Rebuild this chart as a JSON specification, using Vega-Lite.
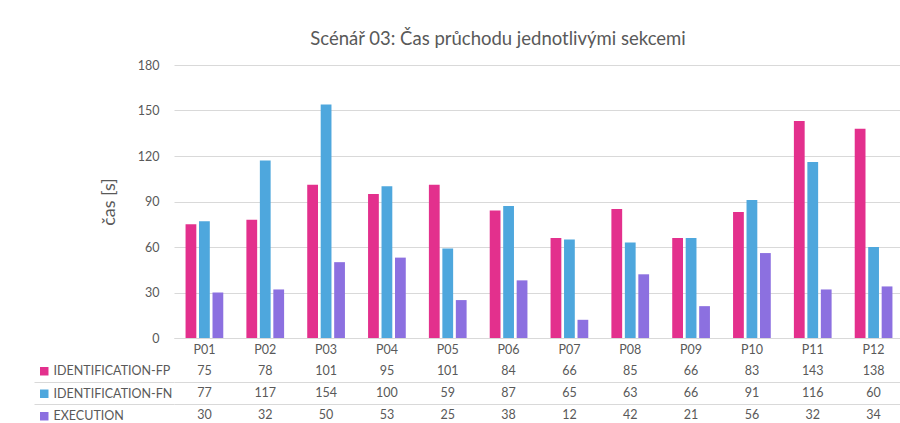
{
  "$schema": "https://vega.github.io/schema/vega-lite/v6.json",
  "width": 730,
  "height": 273,
  "autosize": {"type": "none"},
  "padding": {"left": 174, "top": 65, "right": 0, "bottom": 85},
  "background": "white",
  "config": {"view": {"stroke": null}},
  "title": {"text": "Scénář 03: Čas průchodu jednotlivými sekcemi", "font": "Lato", "fontSize": 18.5, "fontWeight": "normal", "color": "#595959", "anchor": "middle", "frame": "group", "dx": -41, "offset": 11},
  "data": {"values": [
    {"cat": "P01", "series": "IDENTIFICATION-FP", "value": 75},
    {"cat": "P01", "series": "IDENTIFICATION-FN", "value": 77},
    {"cat": "P01", "series": "EXECUTION", "value": 30},
    {"cat": "P02", "series": "IDENTIFICATION-FP", "value": 78},
    {"cat": "P02", "series": "IDENTIFICATION-FN", "value": 117},
    {"cat": "P02", "series": "EXECUTION", "value": 32},
    {"cat": "P03", "series": "IDENTIFICATION-FP", "value": 101},
    {"cat": "P03", "series": "IDENTIFICATION-FN", "value": 154},
    {"cat": "P03", "series": "EXECUTION", "value": 50},
    {"cat": "P04", "series": "IDENTIFICATION-FP", "value": 95},
    {"cat": "P04", "series": "IDENTIFICATION-FN", "value": 100},
    {"cat": "P04", "series": "EXECUTION", "value": 53},
    {"cat": "P05", "series": "IDENTIFICATION-FP", "value": 101},
    {"cat": "P05", "series": "IDENTIFICATION-FN", "value": 59},
    {"cat": "P05", "series": "EXECUTION", "value": 25},
    {"cat": "P06", "series": "IDENTIFICATION-FP", "value": 84},
    {"cat": "P06", "series": "IDENTIFICATION-FN", "value": 87},
    {"cat": "P06", "series": "EXECUTION", "value": 38},
    {"cat": "P07", "series": "IDENTIFICATION-FP", "value": 66},
    {"cat": "P07", "series": "IDENTIFICATION-FN", "value": 65},
    {"cat": "P07", "series": "EXECUTION", "value": 12},
    {"cat": "P08", "series": "IDENTIFICATION-FP", "value": 85},
    {"cat": "P08", "series": "IDENTIFICATION-FN", "value": 63},
    {"cat": "P08", "series": "EXECUTION", "value": 42},
    {"cat": "P09", "series": "IDENTIFICATION-FP", "value": 66},
    {"cat": "P09", "series": "IDENTIFICATION-FN", "value": 66},
    {"cat": "P09", "series": "EXECUTION", "value": 21},
    {"cat": "P10", "series": "IDENTIFICATION-FP", "value": 83},
    {"cat": "P10", "series": "IDENTIFICATION-FN", "value": 91},
    {"cat": "P10", "series": "EXECUTION", "value": 56},
    {"cat": "P11", "series": "IDENTIFICATION-FP", "value": 143},
    {"cat": "P11", "series": "IDENTIFICATION-FN", "value": 116},
    {"cat": "P11", "series": "EXECUTION", "value": 32},
    {"cat": "P12", "series": "IDENTIFICATION-FP", "value": 138},
    {"cat": "P12", "series": "IDENTIFICATION-FN", "value": 60},
    {"cat": "P12", "series": "EXECUTION", "value": 34}
  ]},
  "layer": [
    {
      "mark": {"type": "bar"},
      "encoding": {
        "x": {"field": "cat", "type": "nominal", "scale": {"paddingInner": 0.38, "paddingOuter": 0.19},
              "axis": {"title": null, "labelAngle": 0, "labelFont": "Lato", "labelFontSize": 12.5, "labelColor": "#595959", "domainColor": "#D9D9D9", "ticks": false, "labelPadding": 5}},
        "xOffset": {"field": "series", "type": "nominal", "sort": ["IDENTIFICATION-FP", "IDENTIFICATION-FN", "EXECUTION"], "scale": {"paddingInner": 0.2}},
        "y": {"field": "value", "type": "quantitative", "scale": {"domain": [0, 180], "range": [273, 0]},
              "axis": {"values": [0, 30, 60, 90, 120, 150, 180], "domain": false, "ticks": false, "gridColor": "#D9D9D9", "labelFont": "Lato", "labelFontSize": 12.5, "labelColor": "#595959", "labelPadding": 15, "title": "čas [s]", "titleFont": "Lato", "titleFontSize": 18, "titleFontWeight": "normal", "titleColor": "#595959", "titlePadding": 19}},
        "color": {"field": "series", "type": "nominal", "sort": ["IDENTIFICATION-FP", "IDENTIFICATION-FN", "EXECUTION"],
                  "scale": {"domain": ["IDENTIFICATION-FP", "IDENTIFICATION-FN", "EXECUTION"], "range": ["#E3308D", "#4EA7DD", "#8C70E0"]},
                  "legend": {"orient": "none", "legendX": -136, "legendY": 300, "title": null, "symbolType": "square", "symbolSize": 72, "symbolStrokeWidth": 0, "labelFont": "Lato", "labelFontSize": 12.5, "labelColor": "#595959", "rowPadding": 9.5, "labelOffset": 3}}
      }
    },
    {
      "mark": {"type": "text", "font": "Lato", "fontSize": 12.5, "color": "#595959"},
      "encoding": {
        "x": {"field": "cat", "type": "nominal"},
        "y": {"field": "series", "type": "nominal", "sort": ["IDENTIFICATION-FP", "IDENTIFICATION-FN", "EXECUTION"],
              "scale": {"type": "band", "range": [295, 361], "paddingInner": 0, "paddingOuter": 0},
              "axis": {"orient": "left", "title": null, "labels": false, "domain": false, "ticks": true, "tickSize": 140, "tickColor": "#D9D9D9", "grid": true, "gridColor": "#D9D9D9", "bandPosition": 1}},
        "text": {"field": "value", "type": "quantitative"}
      }
    }
  ],
  "resolve": {"scale": {"y": "independent"}, "axis": {"y": "independent"}}
}
